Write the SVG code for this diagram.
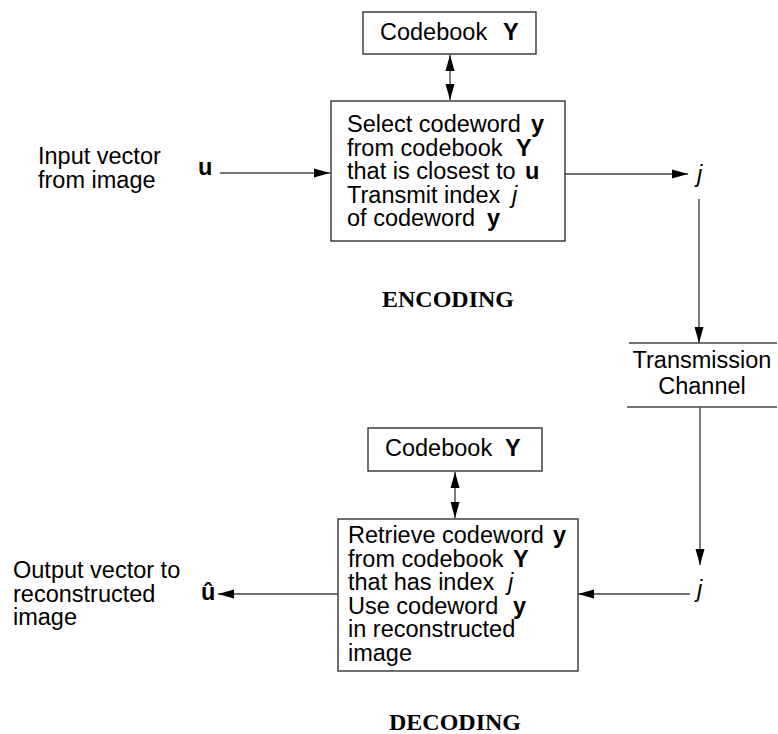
<svg xmlns="http://www.w3.org/2000/svg" width="778" height="734" viewBox="0 0 778 734">
<defs>
<style>
.box{fill:#fff;stroke:#333;stroke-width:1.4}
.ln{fill:none;stroke:#444;stroke-width:1.4}
.t{font-family:"Liberation Sans",Arial,Helvetica,sans-serif;font-size:23.5px;fill:#000}
.b{font-weight:bold}
.i{font-style:italic}
.h{font-family:"Liberation Serif","Times New Roman",serif;font-size:24px;font-weight:bold;fill:#000}
</style>
<marker id="ah" viewBox="0 0 16 10" refX="16" refY="5" markerWidth="16" markerHeight="10" markerUnits="userSpaceOnUse" orient="auto-start-reverse">
<path d="M0,0.5 L16,5 L0,9.5 Z" fill="#000"/>
</marker>
</defs>
<rect width="778" height="734" fill="#fff"/>

<g id="connectors">
<line class="ln" x1="450" y1="55" x2="450" y2="100" marker-start="url(#ah)" marker-end="url(#ah)"/>
<line class="ln" x1="220" y1="173" x2="330" y2="173" marker-end="url(#ah)"/>
<line class="ln" x1="565" y1="174" x2="688" y2="174" marker-end="url(#ah)"/>
<line class="ln" x1="699" y1="199" x2="699" y2="343" marker-end="url(#ah)"/>
<line class="ln" x1="700" y1="407" x2="700" y2="565" marker-end="url(#ah)"/>
<line class="ln" x1="690" y1="594" x2="578" y2="594" marker-end="url(#ah)"/>
<line class="ln" x1="338" y1="594" x2="218" y2="594" marker-end="url(#ah)"/>
<line class="ln" x1="455" y1="472" x2="455" y2="518" marker-start="url(#ah)" marker-end="url(#ah)"/>
</g>

<g id="codebook-enc">
<rect class="box" x="363" y="12" width="173" height="42"/>
<text class="t" x="380" y="40">Codebook</text>
<text class="t b" x="503" y="40">Y</text>
</g>

<g id="encoder">
<rect class="box" x="331" y="101" width="234" height="140"/>
<text class="t" x="347" y="132">Select codeword <tspan class="b" x="531">y</tspan></text>
<text class="t" x="347" y="155.5">from codebook <tspan class="b" x="516">Y</tspan></text>
<text class="t" x="347" y="179">that is closest to <tspan class="b" x="525">u</tspan></text>
<text class="t" x="347" y="202.5">Transmit index <tspan class="i" x="512">j</tspan></text>
<text class="t" x="347" y="226">of codeword <tspan class="b" x="487">y</tspan></text>
</g>

<g id="input">
<text class="t" x="38" y="164">Input vector</text>
<text class="t" x="38" y="187.5">from image</text>
<text class="t b" x="198" y="175">u</text>
</g>

<g id="j-enc">
<text class="t i" x="697" y="182">j</text>
</g>

<g id="encoding-label">
<text class="h" x="448" y="307" text-anchor="middle">ENCODING</text>
</g>

<g id="channel">
<line class="ln" x1="629" y1="343" x2="777" y2="343"/>
<line class="ln" x1="627" y1="407" x2="777" y2="407"/>
<text class="t" x="702" y="368" text-anchor="middle">Transmission</text>
<text class="t" x="702" y="394" text-anchor="middle">Channel</text>
</g>

<g id="codebook-dec">
<rect class="box" x="368" y="428" width="174" height="43"/>
<text class="t" x="385" y="456">Codebook</text>
<text class="t b" x="505" y="456">Y</text>
</g>

<g id="decoder">
<rect class="box" x="338" y="519" width="240" height="152"/>
<text class="t" x="348" y="543">Retrieve codeword <tspan class="b" x="553">y</tspan></text>
<text class="t" x="348" y="566.5">from codebook <tspan class="b" x="513">Y</tspan></text>
<text class="t" x="348" y="590">that has index <tspan class="i" x="508">j</tspan></text>
<text class="t" x="348" y="613.5">Use codeword <tspan class="b" x="513">y</tspan></text>
<text class="t" x="348" y="637">in reconstructed</text>
<text class="t" x="348" y="660.5">image</text>
</g>

<g id="j-dec">
<text class="t i" x="697" y="597">j</text>
</g>

<g id="output">
<text class="t" x="13" y="578">Output vector to</text>
<text class="t" x="13" y="601.5">reconstructed</text>
<text class="t" x="13" y="625">image</text>
<text class="t b" x="201" y="600">û</text>
</g>

<g id="decoding-label">
<text class="h" x="455" y="730" text-anchor="middle">DECODING</text>
</g>
</svg>
